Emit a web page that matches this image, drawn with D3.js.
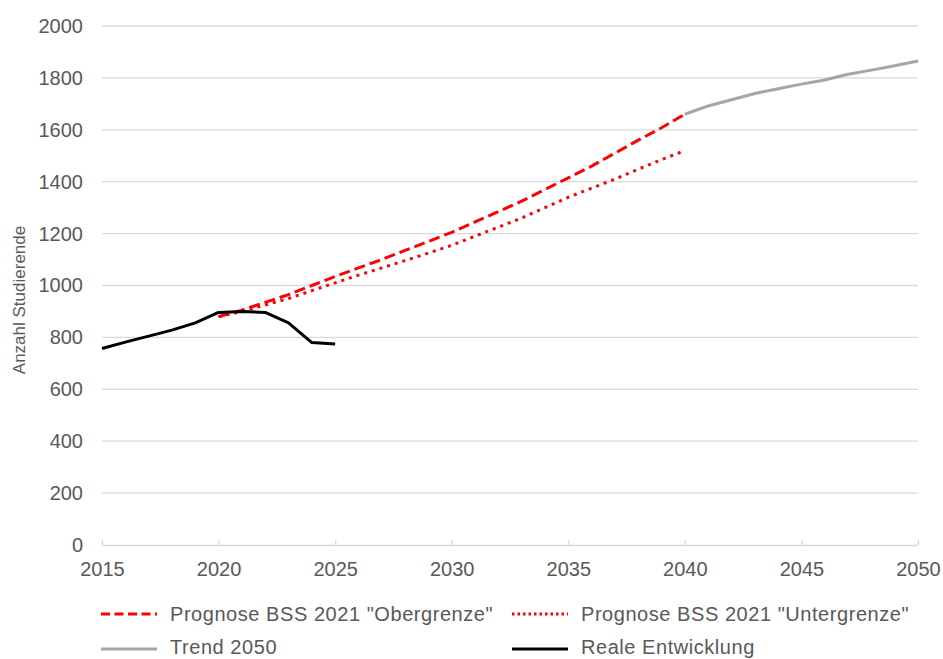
<!DOCTYPE html>
<html>
<head>
<meta charset="utf-8">
<script src="https://cdn.jsdelivr.net/npm/d3@7"></script>
<style>
  html, body { margin: 0; padding: 0; background: #fff; }
  svg text { font-family: "Liberation Sans", Arial, sans-serif; fill: #595959; }
</style>
</head>
<body>
<svg id="chart" width="943" height="659"></svg>
<script>
// Student numbers: observed development, BSS 2021 forecast bounds, trend to 2050
const realYears = [2015, 2016, 2017, 2018, 2019, 2020, 2021, 2022, 2023, 2024, 2025];
const realValues = [757, 782, 805, 828, 856, 896, 900, 896, 856, 780, 775];

const forecastYears = [2020, 2021, 2022, 2023, 2024, 2025, 2026, 2027, 2028, 2029, 2030,
                       2031, 2032, 2033, 2034, 2035, 2036, 2037, 2038, 2039, 2040];
const upperValues = [880, 905, 935, 965, 1000, 1035, 1068, 1100, 1135, 1170, 1205,
                     1245, 1285, 1325, 1370, 1415, 1460, 1510, 1560, 1608, 1660];
const lowerValues = [880, 900, 925, 950, 980, 1010, 1040, 1068, 1096, 1125, 1155,
                     1190, 1225, 1260, 1300, 1340, 1375, 1410, 1448, 1485, 1520];

const trendYears = [2040, 2041, 2042, 2043, 2044, 2045, 2046, 2047, 2048, 2049, 2050];
const trendValues = [1660, 1692, 1716, 1740, 1758, 1776, 1792, 1814, 1830, 1847, 1865];

const xTicks = [2015, 2020, 2025, 2030, 2035, 2040, 2045, 2050];
const yTicks = [0, 200, 400, 600, 800, 1000, 1200, 1400, 1600, 1800, 2000];

const seriesNames = ['Prognose BSS 2021 "Obergrenze"', 'Prognose BSS 2021 "Untergrenze"',
                     'Trend 2050', 'Reale Entwicklung'];

const svg = d3.select("#chart");
const plot = { left: 102, right: 918, top: 26, bottom: 545 };

const x = d3.scaleLinear().domain([2015, 2050]).range([plot.left, plot.right]);
const y = d3.scaleLinear().domain([0, 2000]).range([plot.bottom, plot.top]);

const fontSize = 20;

// horizontal gridlines
svg.append("g")
  .selectAll("line")
  .data(yTicks.filter(v => v > 0))
  .join("line")
  .attr("x1", plot.left).attr("x2", plot.right)
  .attr("y1", d => y(d)).attr("y2", d => y(d))
  .attr("stroke", "#d9d9d9").attr("stroke-width", 1.3);

// y axis (labels only)
const yAxis = svg.append("g")
  .attr("transform", `translate(${plot.left},0)`)
  .call(d3.axisLeft(y).tickValues(yTicks).tickSize(0).tickPadding(19).tickFormat(d3.format("d")));
yAxis.select(".domain").remove();
yAxis.selectAll("text").style("font-size", fontSize + "px").attr("fill", "#595959");

// x axis with inward ticks
const xAxis = svg.append("g")
  .attr("transform", `translate(0,${plot.bottom})`)
  .call(d3.axisBottom(x).tickValues(xTicks).tickSizeInner(-5).tickSizeOuter(0).tickPadding(17).tickFormat(d3.format("d")));
xAxis.select(".domain").attr("stroke", "#d9d9d9").attr("stroke-width", 1.3);
xAxis.selectAll(".tick line").attr("stroke", "#d9d9d9").attr("stroke-width", 1.3);
xAxis.selectAll("text").style("font-size", fontSize + "px").attr("fill", "#595959");

// y axis title
svg.append("text")
  .attr("transform", "translate(25,300) rotate(-90)")
  .attr("text-anchor", "middle")
  .style("font-size", "17px")
  .text("Anzahl Studierende");

const line = d3.line().x(d => x(d[0])).y(d => y(d[1]));

const styles = [
  { color: "#ff0000", width: 3, dash: "11,5" },
  { color: "#ff0000", width: 3, dash: "3,5" },
  { color: "#a5a5a5", width: 3, dash: null },
  { color: "#000000", width: 3, dash: null }
];

const seriesData = [
  d3.zip(forecastYears, upperValues),
  d3.zip(forecastYears, lowerValues),
  d3.zip(trendYears, trendValues),
  d3.zip(realYears, realValues)
];

// draw order: lower bound, upper bound, trend, real development on top
[1, 0, 2, 3].forEach(i => {
  svg.append("path")
    .datum(seriesData[i])
    .attr("d", line)
    .attr("fill", "none")
    .attr("stroke", styles[i].color)
    .attr("stroke-width", styles[i].width)
    .attr("stroke-dasharray", styles[i].dash)
    .attr("stroke-linejoin", "round");
});

// legend: two rows, two columns
const legendPos = [
  { x: 101, y: 614, base: 621 }, { x: 512, y: 614, base: 621 },
  { x: 101, y: 649, base: 654 }, { x: 512, y: 649, base: 654 }
];
const legend = svg.append("g");
seriesNames.forEach((name, i) => {
  const p = legendPos[i];
  legend.append("line")
    .attr("x1", p.x).attr("x2", p.x + 56)
    .attr("y1", p.y).attr("y2", p.y)
    .attr("stroke", styles[i].color)
    .attr("stroke-width", styles[i].width)
    .attr("stroke-dasharray", i === 0 ? "9,4.5" : (i === 1 ? "2.5,3" : null));
  legend.append("text")
    .attr("x", p.x + 69).attr("y", p.base)
    .style("font-size", fontSize + "px")
    .style("letter-spacing", "0.55px")
    .text(name);
});
</script>
</body>
</html>
